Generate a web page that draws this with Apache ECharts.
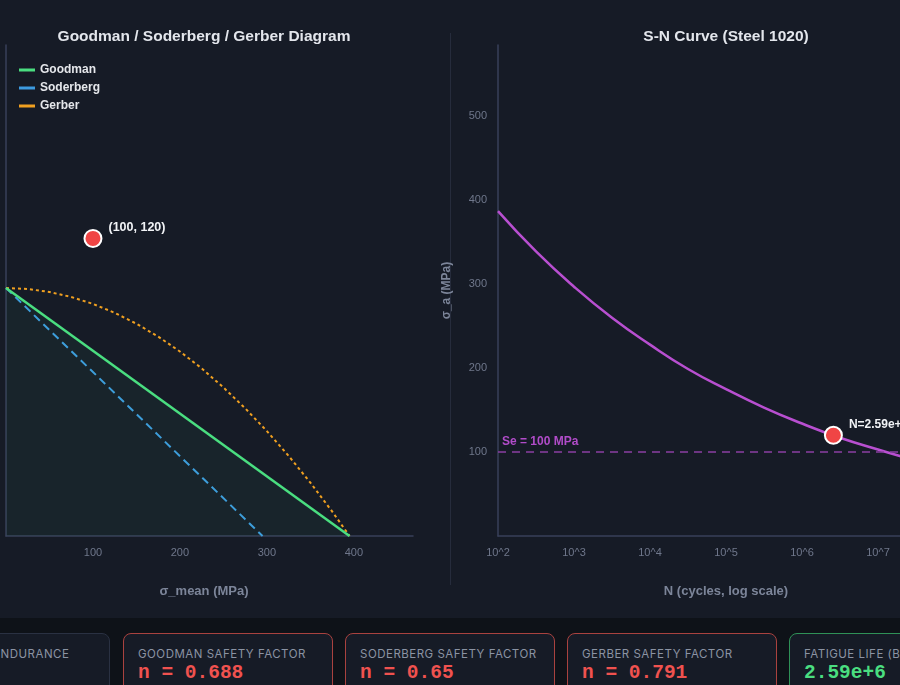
<!DOCTYPE html>
<html>
<head>
<meta charset="utf-8">
<script src="https://cdn.jsdelivr.net/npm/echarts@6/dist/echarts.min.js"></script>
<style>
  html, body { margin: 0; padding: 0; width: 900px; height: 685px; overflow: hidden; background: #0e1218; position: relative; }
  #chart { position: absolute; left: 0; top: 0; width: 1010px; height: 618px; background: #161b26; }
  .card { position: absolute; top: 633px; width: 208px; height: 70px; border-radius: 8px; background: #161b26; border: 1px solid #2a3142; box-sizing: content-box; }
  .card.bad { border-color: #a9423f; }
  .card.good { border-color: #2f9157; }
  .lbl { position: absolute; left: 14px; top: 13px; font-family: Inter, 'Noto Sans', sans-serif; font-size: 11.5px; letter-spacing: 0.5px; color: #8b93a3; white-space: nowrap; }
  .val { position: absolute; left: 14px; top: 28px; font-family: 'Liberation Mono', 'DejaVu Sans Mono', monospace; font-weight: bold; font-size: 19.5px; white-space: nowrap; }
  .bad .val { color: #f0524f; }
  .good .val { color: #4ade80; }
  .neutral .val { color: #e5e7eb; }
</style>
</head>
<body>
<div id="chart"></div>
<div id="cards"></div>
<script>
// ---- data ----
const pointMean = 100;          // sigma_mean (MPa)
const pointAmp = 120;           // sigma_a (MPa)
const goodmanPts = [[0, 100], [395, 0]];
const soderbergPts = [[0, 100], [295, 0]];
const gerberMean = [0, 25, 50, 75, 100, 125, 150, 175, 200, 225, 250, 275, 300, 325, 350, 375, 395];
const gerberAmp  = [100, 99.6, 98.4, 96.4, 93.6, 90.0, 85.6, 80.4, 74.4, 67.6, 59.9, 51.5, 42.3, 32.3, 21.5, 9.9, 0];
const snLogN = [2, 2.5, 3, 3.5, 4, 4.5, 5, 5.5, 6, 6.5, 7, 7.5, 8];
const snStress = [387, 339, 297, 260, 228, 199, 175, 153, 134, 117, 103, 90, 79];
const enduranceLimit = 100;
const lifeLogN = 6.413;         // log10(2.59e6)
const lifeLabel = 'N=2.59e+6';
const cardLabels = ['CORRECTED ENDURANCE', 'GOODMAN SAFETY FACTOR', 'SODERBERG SAFETY FACTOR', 'GERBER SAFETY FACTOR', 'FATIGUE LIFE (BASQUIN)'];
const cardValues = ['100 MPa', 'n = 0.688', 'n = 0.65', 'n = 0.791', '2.59e+6'];
const cardKinds = ['neutral', 'bad', 'bad', 'bad', 'good'];
const cardLefts = [-100, 123, 345, 567, 789];

// ---- cards ----
const cardsEl = document.getElementById('cards');
cardLabels.forEach((t, i) => {
  const d = document.createElement('div');
  d.className = 'card ' + cardKinds[i];
  d.style.left = cardLefts[i] + 'px';
  d.innerHTML = '<div class="lbl">' + t + '</div><div class="val">' + cardValues[i] + '</div>';
  cardsEl.appendChild(d);
});

// ---- chart ----
const FONT = "'Liberation Sans', Arial, sans-serif";
const axisLineColor = '#39405a';
const labelColor = '#6f778b';
const nameColor = '#7c8599';
const chart = echarts.init(document.getElementById('chart'), null, { renderer: 'canvas' });

chart.setOption({
  backgroundColor: '#161b26',
  animation: false,
  textStyle: { fontFamily: FONT },
  title: [
    { text: 'Goodman / Soderberg / Gerber Diagram', left: 199, top: 24, textAlign: 'center',
      textStyle: { color: '#e3e6ec', fontSize: 15.5, fontWeight: 'bold', fontFamily: FONT } },
    { text: 'S-N Curve (Steel 1020)', left: 721, top: 24, textAlign: 'center',
      textStyle: { color: '#e3e6ec', fontSize: 15.5, fontWeight: 'bold', fontFamily: FONT } }
  ],
  legend: {
    left: 14, top: 59, orient: 'vertical', itemGap: 6, itemWidth: 16, itemHeight: 3,
    icon: 'rect',
    data: ['Goodman', 'Soderberg', 'Gerber'],
    textStyle: { color: '#e5e7eb', fontSize: 12, fontWeight: 'bold', fontFamily: FONT }
  },
  graphic: [
    { type: 'line', shape: { x1: 450.5, y1: 33, x2: 450.5, y2: 585 }, style: { stroke: '#262c3c', lineWidth: 1 } }
  ],
  grid: [
    { left: 6, top: 45, width: 407, height: 491 },
    { left: 498, top: 45, width: 456, height: 491 }
  ],
  xAxis: [
    { type: 'value', gridIndex: 0, min: 0, max: 468, interval: 100,
      name: 'σ_mean (MPa)', nameLocation: 'middle', nameGap: 49,
      nameTextStyle: { color: nameColor, fontSize: 13, fontWeight: 'bold', padding: [0, 11, 0, 0] },
      axisLine: { lineStyle: { color: axisLineColor, width: 1.5 } }, axisTick: { show: false },
      splitLine: { show: false },
      axisLabel: { color: labelColor, fontSize: 11, margin: 11, showMinLabel: false, showMaxLabel: false } },
    { type: 'value', gridIndex: 1, min: 2, max: 8, interval: 1,
      name: 'N (cycles, log scale)', nameLocation: 'middle', nameGap: 49,
      nameTextStyle: { color: nameColor, fontSize: 13, fontWeight: 'bold' },
      axisLine: { lineStyle: { color: axisLineColor, width: 1.5 } }, axisTick: { show: false },
      splitLine: { show: false },
      axisLabel: { color: labelColor, fontSize: 11, margin: 11, formatter: v => '10^' + v } }
  ],
  yAxis: [
    { type: 'value', gridIndex: 0, min: 0, max: 198, interval: 50,
      axisLine: { show: true, lineStyle: { color: axisLineColor, width: 1.5 } }, axisTick: { show: false },
      splitLine: { show: false }, axisLabel: { show: false } },
    { type: 'value', gridIndex: 1, min: 0, max: 585, interval: 100,
      name: 'σ_a (MPa)', nameLocation: 'middle', nameGap: 45,
      nameTextStyle: { color: nameColor, fontSize: 12, fontWeight: 'bold' },
      axisLine: { show: true, lineStyle: { color: axisLineColor, width: 1.5 } }, axisTick: { show: false },
      splitLine: { show: false },
      axisLabel: { color: labelColor, fontSize: 11, margin: 11, showMinLabel: false, showMaxLabel: false } }
  ],
  series: [
    { name: 'Goodman', type: 'line', xAxisIndex: 0, yAxisIndex: 0, data: goodmanPts, symbol: 'none',
      color: '#4ade80', lineStyle: { color: '#4ade80', width: 2.5 },
      areaStyle: { color: 'rgba(74, 222, 128, 0.07)' }, z: 3 },
    { name: 'Soderberg', type: 'line', xAxisIndex: 0, yAxisIndex: 0, data: soderbergPts, symbol: 'none',
      color: '#3d9be0', lineStyle: { color: '#3d9be0', width: 2, type: [8, 5] }, z: 2 },
    { name: 'Gerber', type: 'line', xAxisIndex: 0, yAxisIndex: 0, symbol: 'none',
      data: gerberMean.map((m, i) => [m, gerberAmp[i]]),
      color: '#f0a020', lineStyle: { color: '#f0a020', width: 2, type: [3, 3] }, z: 2 },
    { name: 'Operating point', type: 'scatter', xAxisIndex: 0, yAxisIndex: 0,
      data: [[pointMean, pointAmp]], symbolSize: 17,
      itemStyle: { color: '#f04545', borderColor: '#ffffff', borderWidth: 2, opacity: 1 },
      label: { show: true, position: 'right', distance: 6, offset: [0, -11], formatter: '(' + pointMean + ', ' + pointAmp + ')',
        color: '#f1f3f6', fontSize: 12.5, fontWeight: 'bold', fontFamily: FONT }, z: 5 },
    { name: 'S-N', type: 'line', xAxisIndex: 1, yAxisIndex: 1, smooth: true, symbol: 'none',
      data: snLogN.map((n, i) => [n, snStress[i]]),
      lineStyle: { color: '#b84fd0', width: 2.5 }, z: 3,
      markLine: {
        silent: true, symbol: 'none',
        lineStyle: { color: '#8a3fa3', type: [8, 6], width: 1.5 },
        label: { show: true, position: 'insideStartTop', formatter: 'Se = ' + enduranceLimit + ' MPa',
          color: '#b14cc9', fontSize: 12, fontWeight: 'bold', fontFamily: FONT, distance: [4, 4] },
        data: [{ yAxis: enduranceLimit }]
      } },
    { name: 'Life point', type: 'scatter', xAxisIndex: 1, yAxisIndex: 1,
      data: [[lifeLogN, pointAmp]], symbolSize: 17,
      itemStyle: { color: '#f04545', borderColor: '#ffffff', borderWidth: 2, opacity: 1 },
      label: { show: true, position: 'right', distance: 6, offset: [0, -11], formatter: lifeLabel,
        color: '#f1f3f6', fontSize: 12, fontWeight: 'bold', fontFamily: FONT }, z: 5 }
  ]
});
</script>
</body>
</html>
